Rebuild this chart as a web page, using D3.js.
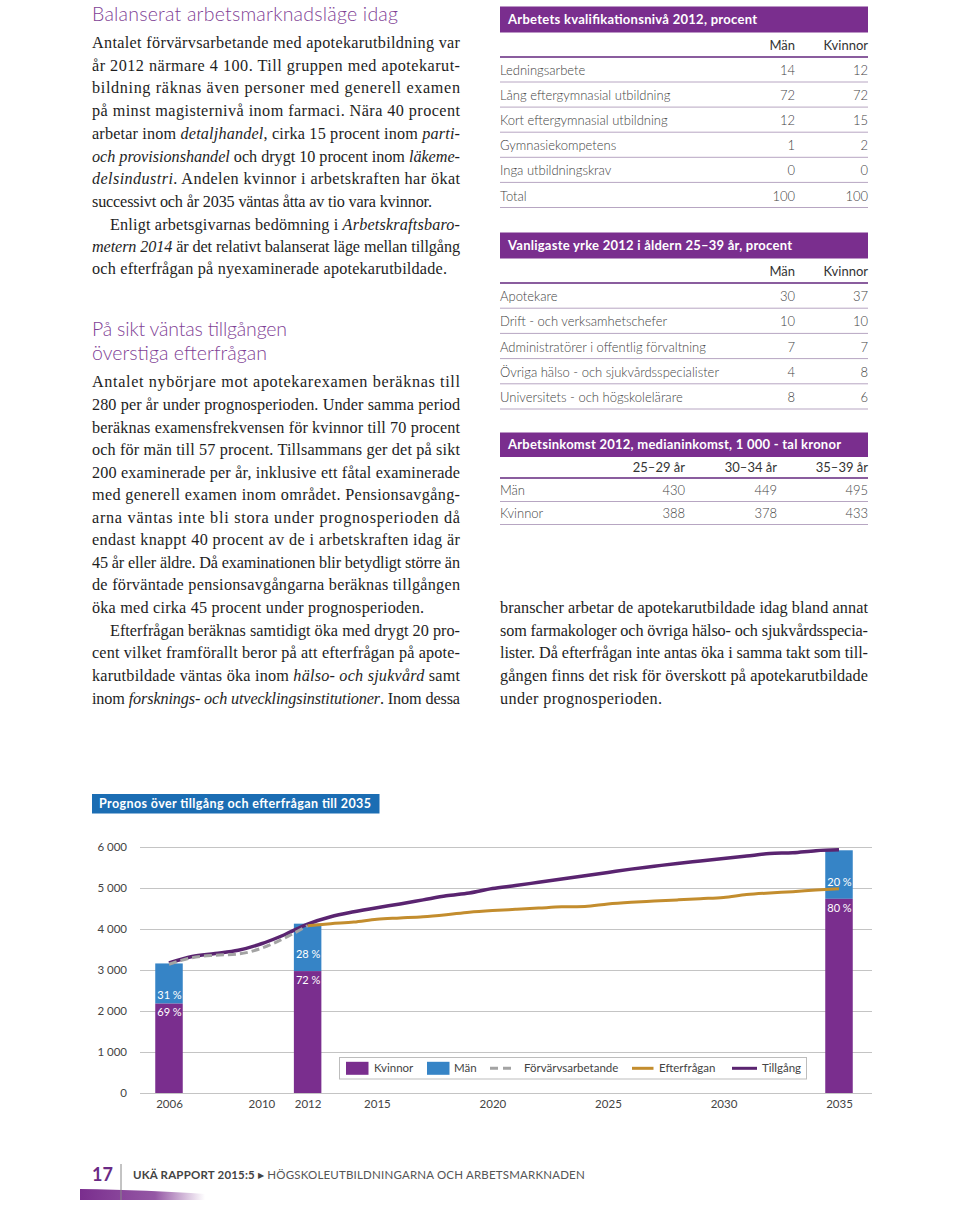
<!DOCTYPE html>
<html><head><meta charset="utf-8">
<script src="https://cdn.jsdelivr.net/npm/d3@7"></script>
<style>
html,body{margin:0;padding:0;background:#fff;}
svg{display:block;}
</style></head>
<body>
<script>
// ---------------- DATA ----------------
const supplyYears = [2006,2007,2008,2009,2010,2011,2012,2013,2014,2015,2016,2017,2018,2019,2020,2021,2022,2023,2024,2025,2026,2027,2028,2029,2030,2031,2032,2033,2034,2035];
const supply = [3170,3330,3400,3480,3640,3860,4120,4300,4420,4520,4610,4710,4810,4880,4990,5060,5140,5220,5300,5380,5460,5530,5600,5660,5720,5780,5840,5860,5910,5930];
const demandYears = [2012,2013,2014,2015,2016,2017,2018,2019,2020,2021,2022,2023,2024,2025,2026,2027,2028,2029,2030,2031,2032,2033,2034,2035];
const demand = [4080,4130,4170,4240,4270,4300,4350,4410,4450,4480,4510,4540,4550,4610,4650,4680,4710,4740,4770,4840,4880,4910,4950,4980];
const employedYears = [2006,2007,2008,2009,2010,2011,2012];
const employed = [3140,3300,3360,3390,3530,3780,4080];
const barYears = [2006, 2012, 2035];
const barTotals = [3160, 4130, 5920];
const womenShare = [69, 72, 80];
const menShare = [31, 28, 20];
const yTicks = [0,1000,2000,3000,4000,5000,6000];
const xTicks = [2006,2010,2012,2015,2020,2025,2030,2035];
const chartTitle = "Prognos över tillgång och efterfrågan till 2035";
const legendLabels = ["Kvinnor","Män","Förvärvsarbetande","Efterfrågan","Tillgång"];

const t1Title = "Arbetets kvalifikationsnivå 2012, procent";
const t1Cols = ["Män","Kvinnor"];
const t1Rows = ["Ledningsarbete","Lång eftergymnasial utbildning","Kort eftergymnasial utbildning","Gymnasiekompetens","Inga utbildningskrav","Total"];
const t1Men = [14,72,12,1,0,100];
const t1Women = [12,72,15,2,0,100];

const t2Title = "Vanligaste yrke 2012 i åldern 25–39 år, procent";
const t2Cols = ["Män","Kvinnor"];
const t2Rows = ["Apotekare","Drift -  och verksamhetschefer","Administratörer i offentlig förvaltning","Övriga hälso -  och sjukvårdsspecialister","Universitets -  och högskolelärare"];
const t2Men = [30,10,7,4,8];
const t2Women = [37,10,7,8,6];

const t3Title = "Arbetsinkomst 2012, medianinkomst, 1 000 - tal kronor";
const t3Cols = ["25–29 år","30–34 år","35–39 år"];
const t3Rows = ["Män","Kvinnor"];
const t3Values = [[430,449,495],[388,378,433]];

// text lines: [text, x, y, endX or null]
const heading1 = "Balanserat arbetsmarknadsläge idag";
const heading2 = ["På sikt väntas tillgången","överstiga efterfrågan"];
const leftLines = [
 ["Antalet förvärvsarbetande med apotekarutbildning var",92,42,460],
 ["år 2012 närmare 4 100. Till gruppen med apotekarut-",92,65,460],
 ["bildning räknas även personer med generell examen",92,87,460],
 ["på minst magisternivå inom farmaci. Nära 40 procent",92,110,460],
 ["arbetar inom _detaljhandel_, cirka 15 procent inom _parti-_",92,133,460],
 ["_och provisionshandel_ och drygt 10 procent inom _läkeme-_",92,156,460],
 ["_delsindustri_. Andelen kvinnor i arbetskraften har ökat",92,178,460],
 ["successivt och år 2035 väntas åtta av tio vara kvinnor.",92,201,432],
 ["Enligt arbetsgivarnas bedömning i _Arbetskraftsbaro-_",110,224,460],
 ["_metern 2014_ är det relativt balanserat läge mellan tillgång",92,246,460],
 ["och efterfrågan på nyexaminerade apotekarutbildade.",92,268,447],
 ["Antalet nybörjare mot apotekarexamen beräknas till",92,381,460],
 ["280 per år under prognosperioden. Under samma period",92,404,460],
 ["beräknas examensfrekvensen för kvinnor till 70 procent",92,427,460],
 ["och för män till 57 procent. Tillsammans ger det på sikt",92,449,460],
 ["200 examinerade per år, inklusive ett fåtal examinerade",92,472,460],
 ["med generell examen inom området. Pensionsavgång-",92,494,460],
 ["arna väntas inte bli stora under prognosperioden då",92,517,460],
 ["endast knappt 40 procent av de i arbetskraften idag är",92,539,460],
 ["45 år eller äldre. Då examinationen blir betydligt större än",92,562,460],
 ["de förväntade pensionsavgångarna beräknas tillgången",92,584,460],
 ["öka med cirka 45 procent under prognosperioden.",92,607,424],
 ["Efterfrågan beräknas samtidigt öka med drygt 20 pro-",110,630,460],
 ["cent vilket framförallt beror på att efterfrågan på apote-",92,652,460],
 ["karutbildade väntas öka inom _hälso- och sjukvård_ samt",92,675,460],
 ["inom _forsknings- och utvecklingsinstitutioner_. Inom dessa",92,698,460],
 ["branscher arbetar de apotekarutbildade idag bland annat",500,607,868],
 ["som farmakologer och övriga hälso- och sjukvårdsspecia-",500,630,868],
 ["lister. Då efterfrågan inte antas öka i samma takt som till-",500,652,868],
 ["gången finns det risk för överskott på apotekarutbildade",500,675,868],
 ["under prognosperioden.",500,698,662]
];

// ---------------- STYLE ----------------
const PURPLE = "#7a2e8e", BLUE = "#3684c6", LINEPURPLE = "#5a2470", GOLD = "#c38d2e", GRAY = "#a3a3a3";
const HEAD = "#7f4296";
const SANS = "Lato, 'Open Sans', sans-serif";
const SERIF = "'Liberation Serif', 'DejaVu Serif', serif";

const svg = d3.select("body").append("svg").attr("width",960).attr("height",1215);

// ---------------- TEXT ----------------
function richText(g, str, x, y, endX, size){
  const t = g.append("text").attr("x",x).attr("y",y).attr("dy","0.35em")
    .attr("font-family",SERIF).attr("font-size",size).attr("fill","#1e1e1e");
  str.split("_").forEach((seg,i)=>{
    if(!seg) return;
    t.append("tspan").attr("font-style", i%2 ? "italic" : "normal").text(seg);
  });
  if(endX) t.attr("textLength", endX - x).attr("lengthAdjust","spacing");
  return t;
}
const tg = svg.append("g");
leftLines.forEach(l => richText(tg, l[0], l[1], l[2], l[3], 16.2));

svg.append("text").attr("x",92).attr("y",14).attr("dy","0.35em").attr("font-family",SANS)
  .attr("font-weight",300).attr("font-size",19.5).attr("fill",HEAD).text(heading1)
  .attr("textLength",306).attr("lengthAdjust","spacing");
heading2.forEach((h,i)=>{
  svg.append("text").attr("x",92).attr("y",329 + i*24).attr("dy","0.35em").attr("font-family",SANS)
    .attr("font-weight",300).attr("font-size",19.5).attr("fill",HEAD).text(h)
    .attr("textLength", i===0 ? 195 : 175).attr("lengthAdjust","spacing");
});

// ---------------- TABLES ----------------
function table(cfg){
  const g = svg.append("g");
  const x0 = 500, x1 = 868;
  g.append("rect").attr("x",x0).attr("y",cfg.bandTop).attr("width",x1-x0).attr("height",cfg.bandH).attr("fill",PURPLE);
  g.append("text").attr("x",x0+8).attr("y",cfg.bandTop+cfg.bandH/2).attr("dy","0.35em")
    .attr("font-family",SANS).attr("font-weight",700).attr("font-size",13).attr("fill","#fff").text(cfg.title)
    .attr("textLength",cfg.titleEnd-(x0+8)).attr("lengthAdjust","spacing");
  cfg.cols.forEach((c,i)=>{
    g.append("text").attr("x",cfg.colX[i]).attr("y",cfg.headY).attr("dy","0.35em").attr("text-anchor","end")
      .attr("font-family",SANS).attr("font-size",13).attr("fill","#333").text(c);
  });
  g.append("line").attr("x1",x0).attr("x2",x1).attr("y1",cfg.headLine).attr("y2",cfg.headLine)
    .attr("stroke","#8a5d9e").attr("stroke-width",2);
  cfg.rows.forEach((r,j)=>{
    const y = cfg.rowY0 + j*cfg.rowH;
    g.append("text").attr("x",x0).attr("y",y).attr("dy","0.35em")
      .attr("font-family",SANS).attr("font-weight",300).attr("font-size",13).attr("fill","#444").text(r);
    cfg.vals[j].forEach((v,i)=>{
      g.append("text").attr("x",cfg.colX[i]).attr("y",y).attr("dy","0.35em").attr("text-anchor","end")
        .attr("font-family",SANS).attr("font-weight",300).attr("font-size",13).attr("fill","#444").text(v);
    });
    g.append("line").attr("x1",x0).attr("x2",x1).attr("y1",y+11.5).attr("y2",y+11.5)
      .attr("stroke","#b7a6c2").attr("stroke-width",1);
  });
}
table({title:t1Title, titleEnd:757, cols:t1Cols, rows:t1Rows, vals:t1Rows.map((r,i)=>[t1Men[i],t1Women[i]]),
  bandTop:6.5, bandH:26, headY:45, headLine:57, rowY0:70.5, rowH:25.1, colX:[795,868]});
table({title:t2Title, titleEnd:792, cols:t2Cols, rows:t2Rows, vals:t2Rows.map((r,i)=>[t2Men[i],t2Women[i]]),
  bandTop:232.5, bandH:26, headY:271.5, headLine:283, rowY0:296.7, rowH:25.2, colX:[795,868]});
table({title:t3Title, titleEnd:841, cols:t3Cols, rows:t3Rows, vals:t3Values,
  bandTop:432.5, bandH:24.5, headY:467, headLine:478, rowY0:490, rowH:23, colX:[685,777,868]});

// ---------------- CHART ----------------
const x = d3.scaleLinear().domain([2006,2035]).range([169,839]);
const y = d3.scaleLinear().domain([0,6000]).range([1093,847]);
const cg = svg.append("g");

// title band
cg.append("rect").attr("x",92).attr("y",794).attr("width",287.5).attr("height",19.5).attr("fill","#1b6db3");
cg.append("text").attr("x",99).attr("y",804).attr("dy","0.35em").attr("font-family",SANS)
  .attr("font-weight",700).attr("font-size",12.5).attr("fill","#fff").text(chartTitle)
  .attr("textLength",272).attr("lengthAdjust","spacing");

// grid + y axis
const fmt = d => d3.format(",")(d).replace(/,/g," ");
const yAxis = d3.axisLeft(y).tickValues(yTicks).tickSize(-(872-140)).tickPadding(13).tickFormat(fmt);
const ya = cg.append("g").attr("transform","translate(140,0)").call(yAxis);
ya.select(".domain").remove();
ya.selectAll(".tick line").attr("stroke","#c4c4c4").attr("stroke-width",1.2);
ya.selectAll(".tick text").attr("font-family",SANS).attr("font-size",11.5).attr("fill","#444");

// x axis
const xAxis = d3.axisBottom(x).tickValues(xTicks).tickSize(0).tickPadding(7).tickFormat(d3.format("d"));
const xa = cg.append("g").attr("transform","translate(0,1093)").call(xAxis);
xa.select(".domain").remove();
xa.selectAll(".tick text").attr("font-family",SANS).attr("font-size",11.5).attr("fill","#444");

// bars
const bw = 27.5;
const bars = barYears.map((yr,i)=>({yr, total:barTotals[i], women:barTotals[i]*womenShare[i]/100, ws:womenShare[i], ms:menShare[i]}));
const bg = cg.append("g");
bars.forEach(b=>{
  bg.append("rect").attr("x",x(b.yr)-bw/2).attr("width",bw).attr("y",y(b.total)).attr("height",y(b.women)-y(b.total)).attr("fill",BLUE);
  bg.append("rect").attr("x",x(b.yr)-bw/2).attr("width",bw).attr("y",y(b.women)).attr("height",y(0)-y(b.women)).attr("fill",PURPLE);
  const yb = y(b.women);
  const upOff = (y(b.women)-y(b.total)) > 45 ? 17 : 8.5;
  bg.append("text").attr("x",x(b.yr)+0.5).attr("y",yb-upOff).attr("dy","0.35em").attr("text-anchor","middle")
    .attr("font-family",SANS).attr("font-size",11).attr("fill","#fff").text(b.ms+" %");
  bg.append("text").attr("x",x(b.yr)+0.5).attr("y",yb+9).attr("dy","0.35em").attr("text-anchor","middle")
    .attr("font-family",SANS).attr("font-size",11).attr("fill","#fff").text(b.ws+" %");
});

// lines
const line = d3.line().x(d=>x(d[0])).y(d=>y(d[1])).curve(d3.curveMonotoneX);
cg.append("path").datum(supplyYears.map((yr,i)=>[yr,supply[i]])).attr("d",line)
  .attr("fill","none").attr("stroke",LINEPURPLE).attr("stroke-width",3.5);
cg.append("path").datum(demandYears.map((yr,i)=>[yr,demand[i]])).attr("d",line)
  .attr("fill","none").attr("stroke",GOLD).attr("stroke-width",3);
cg.append("path").datum(employedYears.map((yr,i)=>[yr,employed[i]])).attr("d",line)
  .attr("fill","none").attr("stroke",GRAY).attr("stroke-width",3).attr("stroke-dasharray","8,4");

// legend
const lg = cg.append("g");
lg.append("rect").attr("x",339.5).attr("y",1057.5).attr("width",467).attr("height",21.5)
  .attr("fill","#fff").attr("stroke","#bdbdbd").attr("stroke-width",1);
const ly = 1068.3;
const legendItems = [
  {type:"rect", color:PURPLE, sx:346, tx:374},
  {type:"rect", color:BLUE, sx:427, tx:454},
  {type:"dash", color:GRAY, sx:490, tx:524},
  {type:"line", color:GOLD, sx:632, tx:659},
  {type:"line", color:LINEPURPLE, sx:732, tx:762}
];
legendItems.forEach((it,i)=>{
  if(it.type==="rect"){
    lg.append("rect").attr("x",it.sx).attr("y",ly-6.5).attr("width",22.5).attr("height",13).attr("fill",it.color);
  } else if(it.type==="dash"){
    lg.append("line").attr("x1",it.sx).attr("x2",it.sx+23).attr("y1",ly).attr("y2",ly)
      .attr("stroke",it.color).attr("stroke-width",3).attr("stroke-dasharray","8,5");
  } else {
    lg.append("line").attr("x1",it.sx).attr("x2",it.sx+(it.color===GOLD?21.5:25)).attr("y1",ly).attr("y2",ly)
      .attr("stroke",it.color).attr("stroke-width",3);
  }
  lg.append("text").attr("x",it.tx).attr("y",ly).attr("dy","0.35em").attr("font-family",SANS)
    .attr("font-size",11.5).attr("fill","#444").text(legendLabels[i]);
});

// ---------------- FOOTER ----------------
const fg = svg.append("g");
const grad = svg.append("defs").append("linearGradient").attr("id","fgrad").attr("x1","0").attr("x2","1");
grad.append("stop").attr("offset","0").attr("stop-color",PURPLE).attr("stop-opacity",1);
grad.append("stop").attr("offset","0.6").attr("stop-color",PURPLE).attr("stop-opacity",0.8);
grad.append("stop").attr("offset","1").attr("stop-color",PURPLE).attr("stop-opacity",0);
fg.append("path").attr("d","M80,1189 Q150,1190 205,1194 L205,1200 L80,1200 Z").attr("fill","url(#fgrad)");
fg.append("line").attr("x1",121).attr("x2",121).attr("y1",1164).attr("y2",1200).attr("stroke","#888").attr("stroke-width",1);
fg.append("text").attr("x",92).attr("y",1175).attr("dy","0.35em").attr("font-family",SANS).attr("font-weight",700)
  .attr("font-size",18).attr("fill","#6a2a85").text("17");
const ft = fg.append("text").attr("x",133).attr("y",1175).attr("dy","0.35em").attr("font-family",SANS)
  .attr("font-size",11.5).attr("letter-spacing",0.3).attr("fill","#444");
ft.append("tspan").attr("font-weight",700).text("UKÄ RAPPORT 2015:5 ");
ft.append("tspan").attr("font-size",8).attr("dy","-1").text("▶");
ft.append("tspan").attr("dy","1").attr("font-weight",400).attr("fill","#555").text(" HÖGSKOLEUTBILDNINGARNA OCH ARBETSMARKNADEN");
ft.attr("textLength",452).attr("lengthAdjust","spacing");
</script>
</body></html>
